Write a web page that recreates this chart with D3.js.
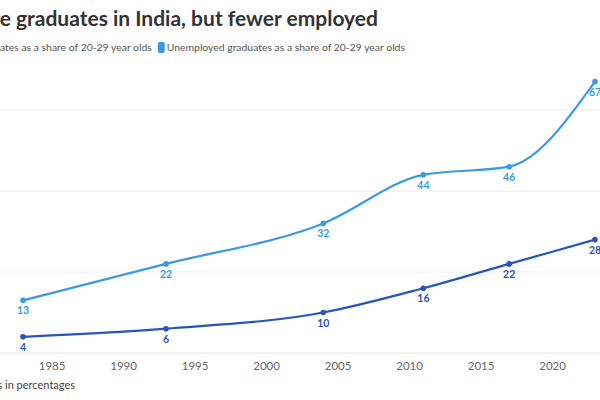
<!DOCTYPE html>
<html>
<head>
<meta charset="utf-8">
<script src="https://cdn.jsdelivr.net/npm/d3@7"></script>
<style>
  html, body { margin: 0; padding: 0; background: #fff; overflow: hidden; }
  svg { display: block; font-family: "Lato", "Noto Sans", sans-serif; }
</style>
</head>
<body>
<svg id="chart" width="600" height="400"></svg>
<script>
const years = [1983, 1993, 2004, 2011, 2017, 2023];
const graduates = [4, 6, 10, 16, 22, 28];
const unemployed = [13, 22, 32, 44, 46, 67];
const xTicks = [1985, 1990, 1995, 2000, 2005, 2010, 2015, 2020];
const yGrid = [20, 40, 60];

const title = "More graduates in India, but fewer employed";
const legendItems = [
  { label: "Graduates as a share of 20-29 year olds", color: "#2755bd", values: graduates },
  { label: "Unemployed graduates as a share of 20-29 year olds", color: "#3c9be0", values: unemployed },
];
const footer = "Figures in percentages";

const svg = d3.select("#chart");
const width = 600;

const x = d3.scaleLinear().domain([1983, 2023]).range([23, 595]);
const y = d3.scaleLinear().domain([0, 80]).range([353, 29]);

function textWidth(str, size, weight) {
  const t = svg.append("text").attr("font-size", size).attr("font-weight", weight).text(str);
  const w = t.node().getComputedTextLength();
  t.remove();
  return w;
}

// the original chart is cropped on the left: shift texts so the same letters show
svg.append("text")
  .attr("x", 0 - textWidth("Mor", 21, 700))
  .attr("y", 26)
  .attr("font-size", 21)
  .attr("font-weight", 700)
  .attr("fill", "#333")
  .text(title);

// legend
const legendSize = 10.4;
let lx = 0 - textWidth("Gradu", legendSize, 400);
const legend = svg.append("g");
legendItems.forEach((d, i) => {
  if (i > 0) {
    legend.append("rect")
      .attr("x", lx + 1).attr("y", 42)
      .attr("width", 7).attr("height", 11)
      .attr("rx", 2)
      .attr("fill", d.color);
    lx += 10;
  }
  const t = legend.append("text")
    .attr("x", lx).attr("y", 51)
    .attr("font-size", legendSize)
    .attr("fill", "#555")
    .text(d.label);
  lx += t.node().getComputedTextLength() + 5;
});

// gridlines + baseline
svg.append("g")
  .selectAll("line")
  .data(yGrid)
  .join("line")
  .attr("x1", 0).attr("x2", width)
  .attr("y1", d => y(d)).attr("y2", d => y(d))
  .attr("stroke", "#ececec")
  .attr("stroke-width", 1);

svg.append("line")
  .attr("x1", 0).attr("x2", width)
  .attr("y1", y(0)).attr("y2", y(0))
  .attr("stroke", "#e2e2e2");

// x axis
const xAxis = svg.append("g")
  .attr("transform", `translate(0,${y(0)})`)
  .call(d3.axisBottom(x).tickValues(xTicks).tickFormat(d3.format("d")).tickSize(0).tickPadding(9));
xAxis.select(".domain").remove();
xAxis.selectAll("text")
  .attr("font-size", 11.5)
  .attr("fill", "#666")
  .attr("font-family", "Lato, 'Noto Sans', sans-serif");

const line = d3.line()
  .x((d, i) => x(years[i]))
  .y(d => y(d))
  .curve(d3.curveMonotoneX);

legendItems.forEach(s => {
  const g = svg.append("g");
  g.append("path")
    .datum(s.values)
    .attr("fill", "none")
    .attr("stroke", s.color)
    .attr("stroke-width", 2.2)
    .attr("d", line);
  g.selectAll("circle")
    .data(s.values)
    .join("circle")
    .attr("cx", (d, i) => x(years[i]))
    .attr("cy", d => y(d))
    .attr("r", 2.8)
    .attr("fill", s.color);
  g.selectAll("text")
    .data(s.values)
    .join("text")
    .attr("x", (d, i) => x(years[i]))
    .attr("y", d => y(d) + 14)
    .attr("text-anchor", "middle")
    .attr("font-size", 10.5)
    .attr("font-weight", 700)
    .attr("fill", s.color)
    .text(d => d);
});

// footer
svg.append("text")
  .attr("x", 75 - textWidth(footer, 11, 400))
  .attr("y", 389)
  .attr("font-size", 11)
  .attr("fill", "#444")
  .text(footer);
</script>
</body>
</html>
